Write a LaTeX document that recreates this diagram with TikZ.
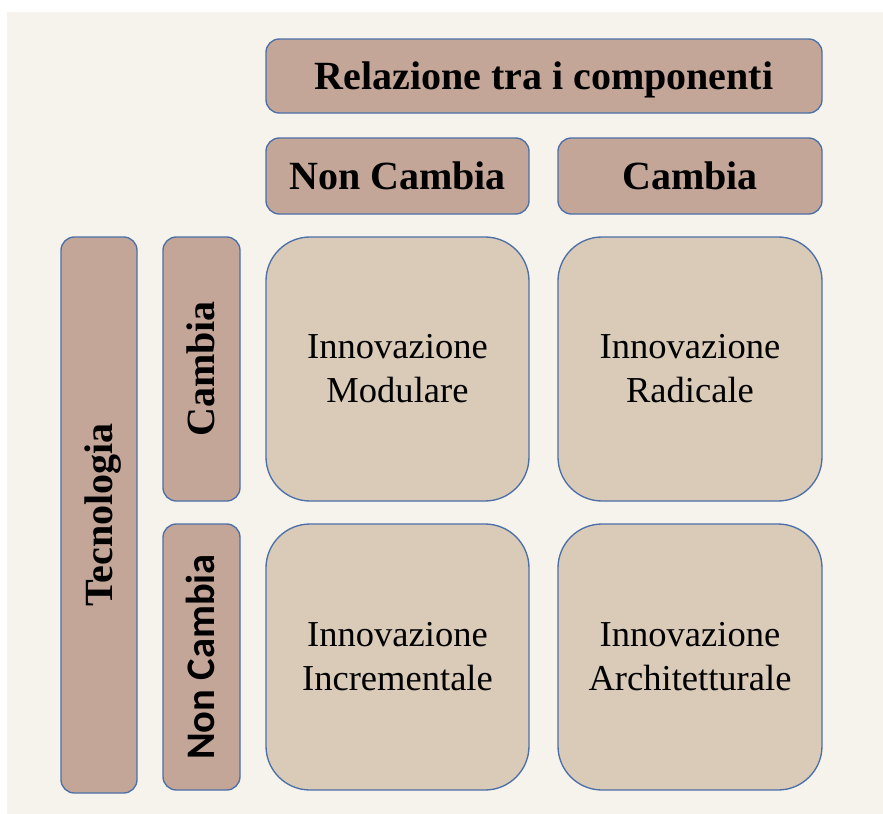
\documentclass[tikz,border=0pt]{standalone}
\usepackage{fontspec}
\setmainfont{Liberation Serif}
\newfontfamily\calibfont{Carlito}
\definecolor{cFondo}{HTML}{F5F3EC}
\definecolor{cTitolo}{HTML}{C4A699}
\definecolor{cCella}{HTML}{D9CBB8}
\definecolor{cBordo}{HTML}{4C6FA8}

\begin{document}
\begin{tikzpicture}[
    x=0.75pt, y=-0.75pt,
    hdr/.style={draw=cBordo, line width=1pt, rounded corners=10pt,
                fill=cTitolo, inner sep=0pt, text height=19.8pt, text depth=0pt,
                font=\fontsize{30}{36}\selectfont\bfseries},
    cell/.style={draw=cBordo, line width=1pt, rounded corners=33pt,
                 fill=cCella, inner sep=0pt, align=center,
                 font=\fontsize{27.4}{33}\selectfont},
]

% ===================== Sfondo =====================
\fill[white] (0,0) rectangle (883,814);
\fill[cFondo] (7,12) rectangle (883,814);

% ===================== Intestazioni =====================
\node[hdr, minimum width=417pt, minimum height=55.5pt] (relaz) at (544,76)
      {Relazione tra i componenti};
\node[hdr, minimum width=197.25pt, minimum height=57pt] (colNon) at (397.5,176)
      {Non Cambia};
\node[hdr, minimum width=198pt, minimum height=57pt] (colSi) at (690,176)
      {Cambia};

% ===================== Tecnologia (verticale) =====================
\node[hdr, rotate=90, minimum width=417pt, minimum height=57pt] (tecno) at (99,515)
      {Tecnologia};
\node[hdr, rotate=90, minimum width=198pt, minimum height=57.75pt] (rigaSi) at (201.5,369)
      {Cambia};
\node[hdr, rotate=90, minimum width=199.5pt, minimum height=57.75pt,
      font=\fontsize{30.4}{36}\selectfont\calibfont\bfseries] (rigaNon) at (201.5,657)
      {Non Cambia};

% ===================== Matrice =====================
\node[cell, minimum width=197.25pt, minimum height=198pt] (modul) at (397.5,369)
      {Innovazione\\Modulare};
\node[cell, minimum width=198pt, minimum height=198pt] (radic) at (690,369)
      {Innovazione\\Radicale};
\node[cell, minimum width=197.25pt, minimum height=199.5pt] (incr) at (397.5,657)
      {Innovazione\\Incrementale};
\node[cell, minimum width=198pt, minimum height=199.5pt] (archi) at (690,657)
      {Innovazione\\Architetturale};

\end{tikzpicture}
\end{document}
